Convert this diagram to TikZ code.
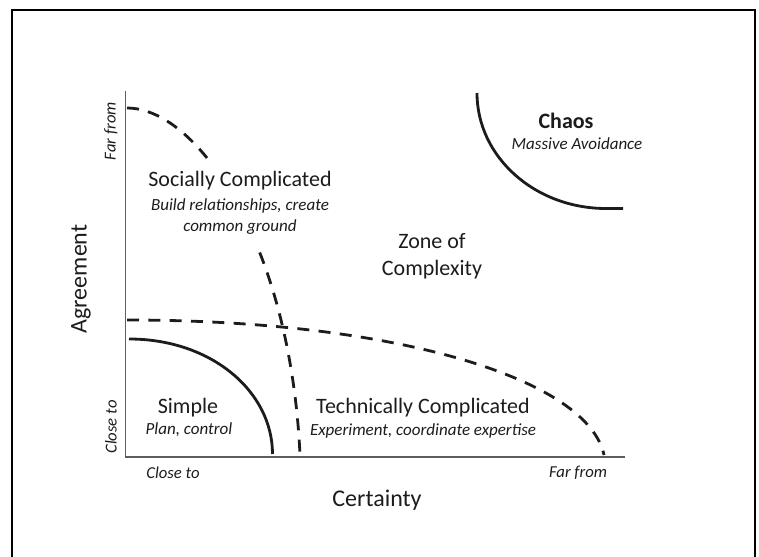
\documentclass[tikz,border=0pt]{standalone}
\usepackage{fontspec}
\setmainfont{Carlito}
\usetikzlibrary{positioning}
\definecolor{ink}{HTML}{1C1C1C}
\definecolor{axisgray}{HTML}{5E5E5E}

\begin{document}
\begin{tikzpicture}[
  x=0.75pt, y=-0.75pt,
  every node/.style={text=ink, inner sep=0pt},
  region/.style={font=\fontsize{16.5}{20}\selectfont, align=center},
  hint/.style={font=\fontsize{12.75}{16}\selectfont\itshape, align=center},
  axtitle/.style={font=\fontsize{18}{22}\selectfont},
  axend/.style={font=\fontsize{12.5}{15}\selectfont\itshape},
  edge/.style={draw=ink, line width=2.1pt},
  border/.style={edge, dash pattern=on 9pt off 7pt},
  axisline/.style={draw=axisgray, line width=1.4pt}
]
\useasboundingbox (0,0) rectangle (759,556);
% frame
\draw[line width=2pt] (12,560) -- (12,10) -- (755,10) -- (755,560);

% axes
\draw[axisline] (125.5,91) -- (125.5,457) -- (625,457);

% zone borders
\draw[edge] (129,339) .. controls (212,339) and (272.5,392) .. (272.5,454);
\draw[edge] (477,93) .. controls (477,156.8) and (534.8,208.5) .. (606,208.5) -- (623,208.5);
\draw[border] (127,108) .. controls (153.4,108) and (182.1,126.6) .. (208.4,159.7);
\draw[border] (259.7,252.5) .. controls (281.4,307.6) and (296.4,376.7) .. (300,455);
\draw[border] (127,320) .. controls (400,320) and (588,380) .. (604,455);

% zones
\node[region] (soc) at (240,181) {Socially Complicated};
\node[hint] (socsub) at (240,216.5) {Build relationships, create\\common ground};
\node[region] (zone) at (432,256) {Zone of\\Complexity};
\node[region] (simple) at (188,408) {Simple};
\node[hint] (simplesub) at (189,430) {Plan, control};
\node[region] (tech) at (423,408) {Technically Complicated};
\node[hint] (techsub) at (423,431) {Experiment, coordinate expertise};
\node[region, font=\fontsize{16.5}{20}\selectfont\bfseries] (chaos) at (566,121) {Chaos};
\node[hint] (chaossub) at (577,144) {Massive Avoidance};

% axis labels
\node[axtitle, rotate=90] (agree) at (81,279) {Agreement};
\node[axtitle] (certy) at (377,500) {Certainty};
\node[axend, rotate=90] (yfar) at (111,131) {Far from};
\node[axend, rotate=90] (yclose) at (111,427) {Close to};
\node[axend] (xclose) at (173,473) {Close to};
\node[axend] (xfar) at (578,473) {Far from};
\end{tikzpicture}
\end{document}
